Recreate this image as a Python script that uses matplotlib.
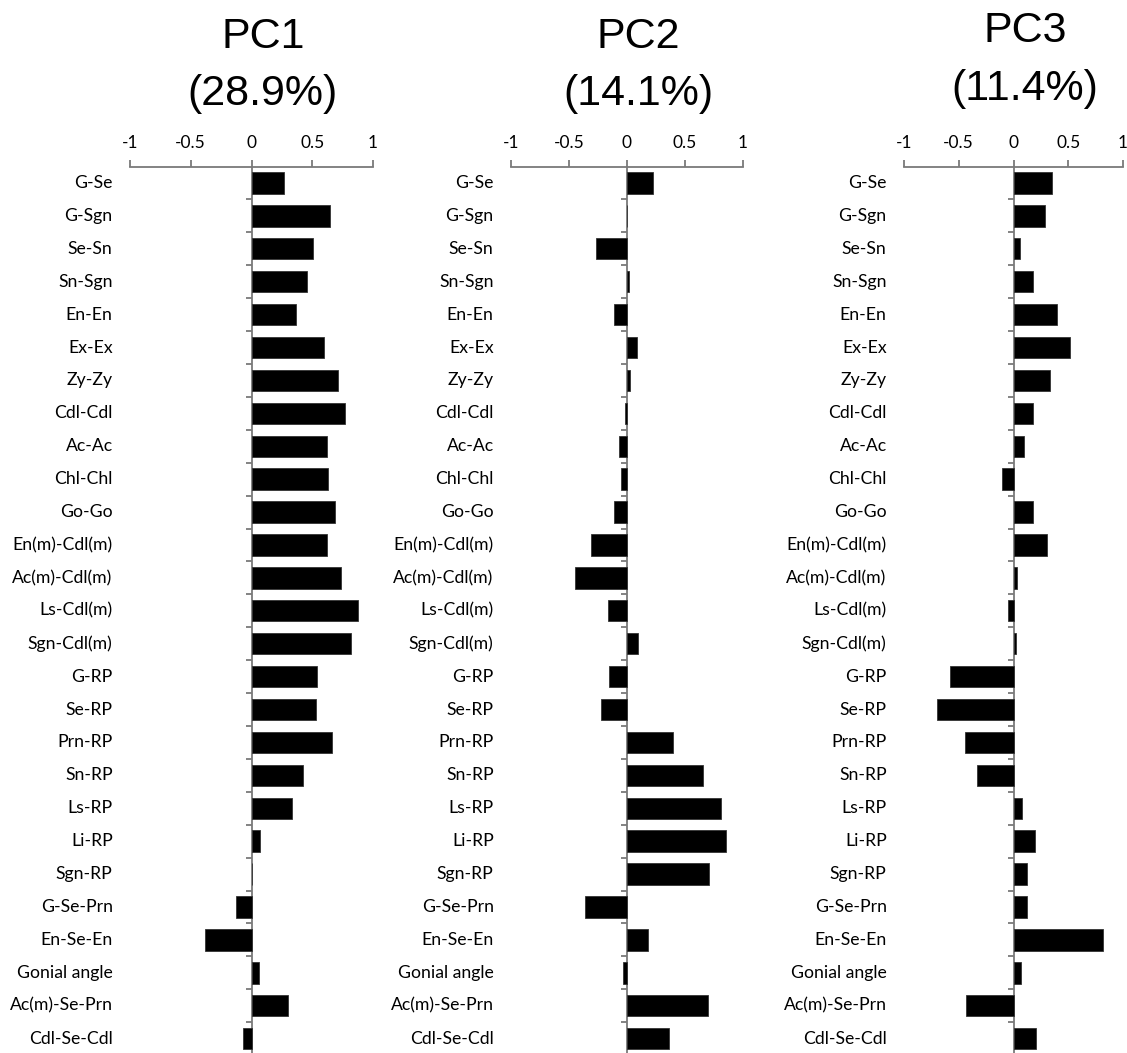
import numpy as np
import matplotlib.pyplot as plt
from matplotlib.ticker import FixedLocator, NullFormatter

## --------------------------- Data --------------------------------------

variables = ['G-Se', 'G-Sgn', 'Se-Sn', 'Sn-Sgn', 'En-En', 'Ex-Ex', 'Zy-Zy', 'Cdl-Cdl',
             'Ac-Ac', 'Chl-Chl', 'Go-Go', 'En(m)-Cdl(m)', 'Ac(m)-Cdl(m)', 'Ls-Cdl(m)',
             'Sgn-Cdl(m)', 'G-RP', 'Se-RP', 'Prn-RP', 'Sn-RP', 'Ls-RP', 'Li-RP', 'Sgn-RP',
             'G-Se-Prn', 'En-Se-En', 'Gonial angle', 'Ac(m)-Se-Prn', 'Cdl-Se-Cdl']

pc1 = [0.27, 0.65, 0.51, 0.46, 0.37, 0.60, 0.71, 0.77,
       0.62, 0.63, 0.69, 0.62, 0.74, 0.875,
       0.82, 0.54, 0.53, 0.66, 0.42, 0.33, 0.07, 0.0,
       -0.13, -0.38, 0.06, 0.30, -0.07]

pc2 = [0.22, 0.0, -0.27, 0.02, -0.115, 0.085, 0.03, -0.015,
       -0.07, -0.05, -0.115, -0.31, -0.445, -0.165,
       0.095, -0.155, -0.22, 0.40, 0.655, 0.81, 0.85, 0.71,
       -0.365, 0.18, -0.035, 0.70, 0.36]

pc3 = [0.35, 0.29, 0.06, 0.175, 0.40, 0.52, 0.33, 0.175,
       0.10, -0.105, 0.18, 0.305, 0.03, -0.05,
       0.02, -0.58, -0.70, -0.44, -0.33, 0.08, 0.20, 0.125,
       0.12, 0.815, 0.07, -0.43, 0.21]

titles = ['PC1', 'PC2', 'PC3']
explained = ['(28.9%)', '(14.1%)', '(11.4%)']
x_ticks = [-1, -0.5, 0, 0.5, 1]
x_tick_labels = ['-1', '-0.5', '0', '0.5', '1']

## --------------------------- Plotting --------------------------------------

W, H = 1127, 1053
fig = plt.figure(figsize=(W / 100, H / 100), dpi=100)

# panel placement in pixels: (left, right)
panel_px = [(130, 373), (511, 743), (904, 1123)]
top_px = 166.5
# title baselines in pixels (line 1, line 2)
title_base = [(48.5, 105), (48.5, 105), (42, 100)]

label_font = 'Lato'
grey = '#7a7a7a'
y = np.arange(len(variables))

for k, values in enumerate([pc1, pc2, pc3]):
    left, right = panel_px[k]
    ax = fig.add_axes([left / W, -0.002, (right - left) / W, 1 - top_px / H + 0.002])

    ax.barh(y, values, height=0.65, color='black', edgecolor='#333333', linewidth=0.6, zorder=3)

    ax.set_xlim(-1, 1)
    ax.set_ylim(len(variables) - 0.5, -0.5)

    ax.spines['right'].set_visible(False)
    ax.spines['bottom'].set_visible(False)
    ax.spines['left'].set_position(('data', 0))
    ax.spines['left'].set_color(grey)
    ax.spines['left'].set_linewidth(1.3)
    ax.spines['top'].set_color(grey)
    ax.spines['top'].set_linewidth(1.3)

    ax.xaxis.set_ticks_position('top')
    ax.set_xticks(x_ticks)
    ax.set_xticklabels(x_tick_labels, fontfamily=label_font, fontsize=12.5)
    ax.tick_params(axis='x', direction='out', length=5, width=1.3, color=grey, pad=6)

    # small ticks between categories on the zero line
    ax.yaxis.set_major_locator(FixedLocator(np.arange(0.5, len(variables) - 1, 1)))
    ax.yaxis.set_major_formatter(NullFormatter())
    ax.tick_params(axis='y', direction='out', length=4.5, width=1.3, color=grey)

    for i, name in enumerate(variables):
        ax.annotate(name, xy=(0, i), xycoords=ax.get_yaxis_transform(),
                    xytext=(-12.5, 0), textcoords='offset points',
                    ha='right', va='center', fontfamily=label_font, fontsize=12.7)

    cx = (left + right) / 2 / W + 0.010
    b1, b2 = title_base[k]
    fig.text(cx, 1 - b1 / H, titles[k], ha='center', va='baseline',
             fontfamily='Liberation Sans', fontsize=31)
    fig.text(cx, 1 - b2 / H, explained[k], ha='center', va='baseline',
             fontfamily='Liberation Sans', fontsize=31)

fig.savefig('out.png', dpi=100)
